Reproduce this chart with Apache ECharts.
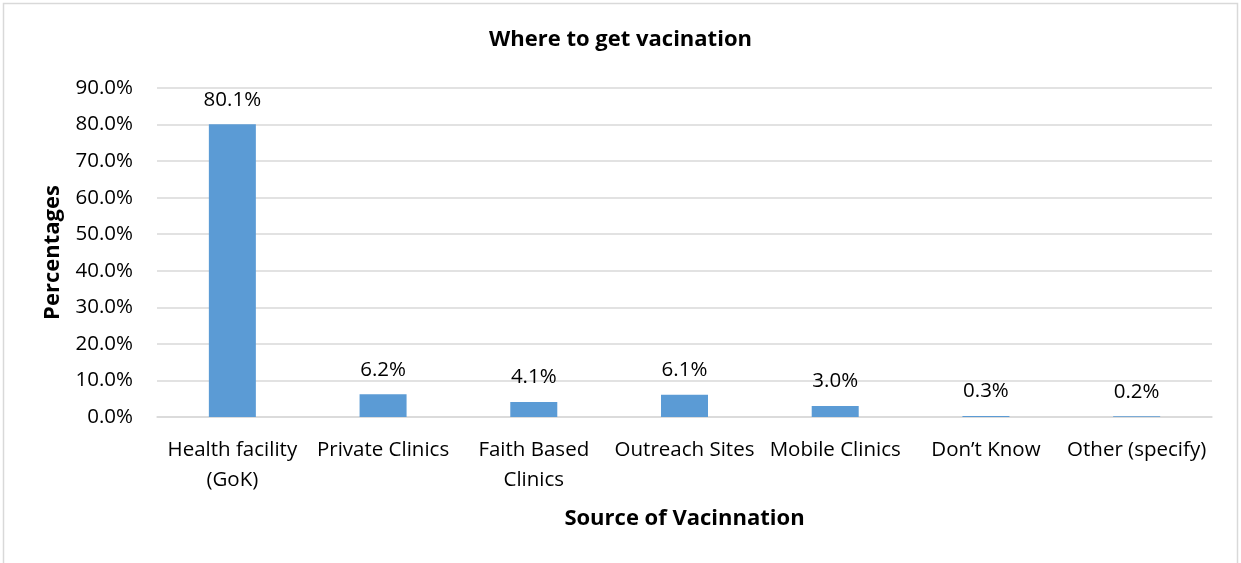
<!DOCTYPE html>
<html>
<head>
<meta charset="utf-8">
<script src="https://cdn.jsdelivr.net/npm/echarts@6/dist/echarts.min.js"></script>
<style>
  html, body { margin: 0; padding: 0; background: #ffffff; }
  #chart { width: 1241px; height: 563px; }
</style>
</head>
<body>
<div id="chart"></div>
<script>
// Where respondents say they get vaccinated (percent of responses)
const categories = [
  'Health facility\n(GoK)',
  'Private Clinics',
  'Faith Based\nClinics',
  'Outreach Sites',
  'Mobile Clinics',
  'Don\u2019t Know',
  'Other (specify)'
];
const percentages = [80.1, 6.2, 4.1, 6.1, 3.0, 0.3, 0.2];
const yTicks = { min: 0, max: 90, interval: 10 };

const FONT = '"Open Sans", "Noto Sans", sans-serif';
const TEXT_SIZE = 20.5;
const HEAD_SIZE = 22;

const chart = echarts.init(document.getElementById('chart'), null, { renderer: 'canvas' });

chart.setOption({
  animation: false,
  backgroundColor: '#ffffff',
  textStyle: { fontFamily: FONT, color: '#000000' },
  title: {
    text: 'Where to get vacination',
    left: 'center',
    top: 24,
    textStyle: { fontFamily: FONT, fontSize: HEAD_SIZE, fontWeight: 'bold', color: '#000000' }
  },
  graphic: [{
    type: 'rect',
    left: 1, top: 1,
    shape: { width: 1234, height: 600 },
    style: { fill: 'none', stroke: '#d9d9d9', lineWidth: 1.5 },
    silent: true
  }],
  grid: { left: 157, right: 29, top: 88, bottom: 146, containLabel: false },
  xAxis: {
    type: 'category',
    data: categories,
    name: 'Source of Vacinnation',
    nameLocation: 'middle',
    nameGap: 91,
    nameTextStyle: { fontFamily: FONT, fontSize: HEAD_SIZE, fontWeight: 'bold', color: '#000000' },
    axisLine: { show: true, lineStyle: { color: '#d9d9d9', width: 1.5 } },
    axisTick: { show: false },
    axisLabel: {
      interval: 0,
      margin: 18,
      fontFamily: FONT,
      fontSize: TEXT_SIZE,
      lineHeight: 30,
      color: '#000000'
    }
  },
  yAxis: {
    type: 'value',
    min: yTicks.min,
    max: yTicks.max,
    interval: yTicks.interval,
    name: 'Percentages',
    nameLocation: 'middle',
    nameGap: 93,
    nameRotate: 90,
    nameTextStyle: { fontFamily: FONT, fontSize: HEAD_SIZE, fontWeight: 'bold', color: '#000000' },
    axisLine: { show: false },
    axisTick: { show: false },
    splitLine: { show: true, lineStyle: { color: '#d9d9d9', width: 1.5 } },
    axisLabel: {
      margin: 24,
      fontFamily: FONT,
      fontSize: TEXT_SIZE,
      color: '#000000',
      formatter: v => v.toFixed(1) + '%'
    }
  },
  series: [{
    type: 'bar',
    data: percentages,
    barWidth: 47,
    itemStyle: { color: '#5b9bd5' },
    label: {
      show: true,
      position: 'top',
      distance: 14,
      fontFamily: FONT,
      fontSize: TEXT_SIZE,
      color: '#000000',
      formatter: p => p.value.toFixed(1) + '%'
    }
  }]
});
</script>
</body>
</html>
